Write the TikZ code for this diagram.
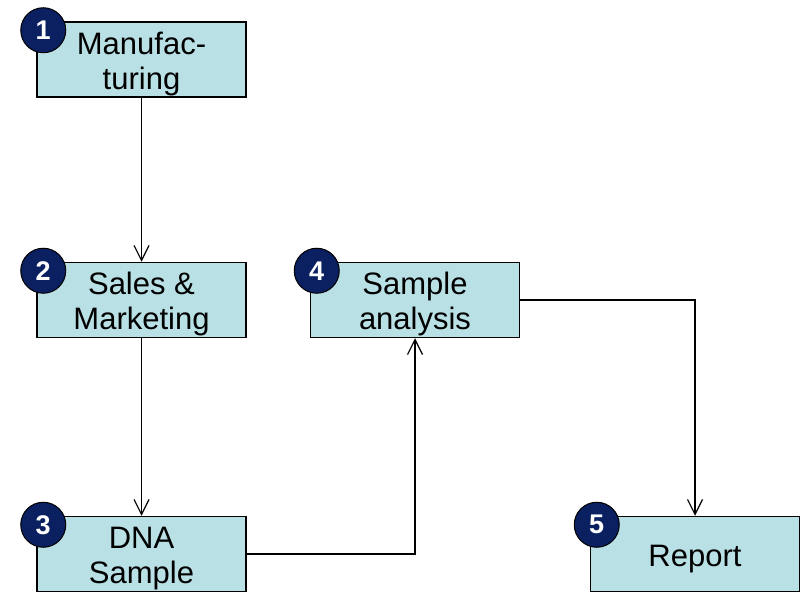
\documentclass[tikz,border=0pt]{standalone}
\usepackage{fontspec}
\setmainfont{Liberation Sans}
\usetikzlibrary{arrows.meta}
\definecolor{boxfill}{RGB}{185,224,228}
\definecolor{badgeblue}{RGB}{10,32,96}
\newcommand{\toppad}{\rule{0pt}{31pt}}

\begin{document}
\begin{tikzpicture}[x=1pt, y=-1pt,
    stepbox/.style={draw, line width=1.5pt, fill=boxfill, minimum width=209pt, minimum height=75pt, inner sep=0, align=center, font=\fontsize{31}{35}\selectfont},
    badge/.style={circle, draw, line width=1pt, fill=badgeblue, minimum size=45pt, inner sep=0, text=white, font=\fontsize{27}{27}\selectfont\bfseries},
    flow/.style={line width=1.2pt, -{Straight Barb[length=15pt, width=15pt]}}]
                \useasboundingbox (0,0) rectangle (803,593);

                \node[stepbox](b1) at (141.5,59.5) {\toppad Manufac-\\turing};
                \node[stepbox](b2) at (141.5,300) {\toppad Sales \&\\Marketing};
                \node[stepbox](b3) at (141.5,554) {\toppad DNA\\Sample};
                \node[stepbox](b4) at (415,300) {\toppad Sample\\analysis};
                \node[stepbox](b5) at (695,554) {\toppad Report};

                \node[badge](n1) at ([shift={(7,9)}]b1.north west) {1};
                \node[badge](n2) at ([shift={(7,9)}]b2.north west) {2};
                \node[badge](n3) at ([shift={(7,9)}]b3.north west) {3};
                \node[badge](n4) at ([shift={(7,9)}]b4.north west) {4};
                \node[badge](n5) at ([shift={(7,9)}]b5.north west) {5};

                                \draw[flow] (b1.south) -- (b2.north);
                                \draw[flow] (b2.south) -- (b3.north);
                                \draw[flow] (b3.east) -| (b4.south);
                                \draw[flow] (b4.east) -| (b5.north);
\end{tikzpicture}
\end{document}
